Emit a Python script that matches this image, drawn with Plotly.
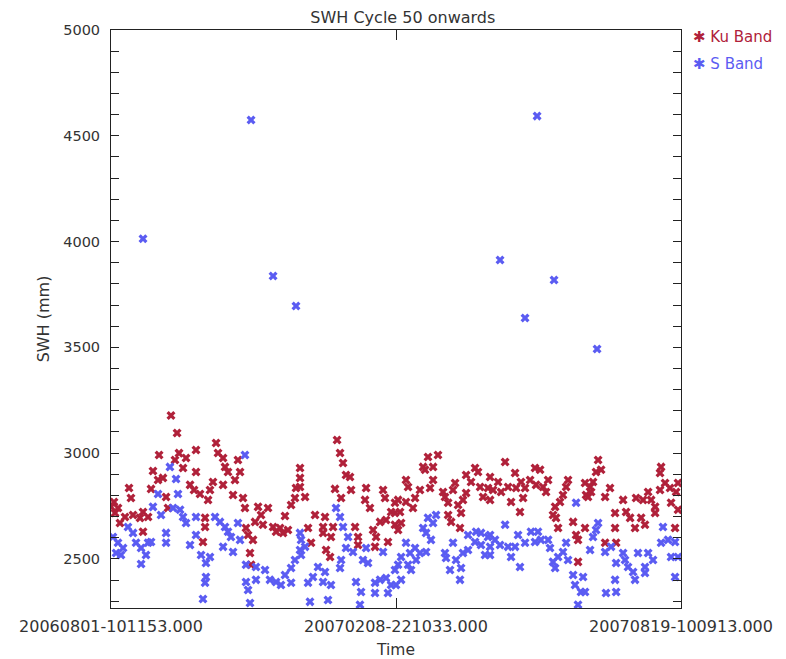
import plotly.graph_objects as go

# Time axis: days since 2006-08-01 10:11:53
tick_days = [0.0, 191.5, 383.0]
tick_labels = ["20060801-101153.000", "20070208-221033.000", "20070819-100913.000"]

ku_day = [0.0, 2.0, 2.7, 4.7, 6.0, 9.4, 12.1, 13.4, 14.8, 19.5, 21.5, 21.5, 24.9, 26.9, 28.2, 31.6, 32.3, 34.9,
          37.0, 38.3, 40.3, 43.0, 44.4, 45.7, 48.4, 50.4, 53.1, 55.8, 57.1, 57.1, 59.8, 61.8, 63.2, 63.2, 65.2,
          66.5, 68.5, 70.6, 71.9, 75.3, 75.3, 76.6, 78.6, 82.0, 83.3, 85.3, 86.7, 88.7, 90.0, 90.7, 92.1, 93.4,
          94.1, 95.4, 96.8, 98.8, 100.8, 102.1, 105.5, 108.9, 110.9, 113.6, 115.6, 116.9, 118.9, 121.0, 123.6,
          124.3, 127.0, 127.0, 127.0, 130.4, 132.4, 134.4, 137.1, 142.5, 142.5, 143.8, 144.5, 147.2, 147.8,
          149.2, 150.5, 151.9, 153.9, 154.6, 155.9, 157.9, 160.6, 161.3, 164.0, 166.0, 166.0, 170.7, 171.4,
          174.0, 176.1, 177.4, 178.1, 180.8, 182.8, 184.1, 184.8, 186.1, 188.2, 190.8, 190.8, 190.8, 192.9,
          192.9, 194.2, 194.9, 198.2, 198.2, 199.6, 202.9, 204.3, 207.6, 209.7, 211.0, 213.0, 214.4, 216.4,
          216.4, 219.7, 223.1, 224.4, 226.5, 226.5, 228.5, 229.8, 231.2, 233.2, 234.5, 235.2, 236.5, 238.6,
          238.6, 241.9, 244.6, 246.6, 248.0, 250.0, 253.3, 254.7, 254.7, 256.7, 260.1, 262.1, 264.8, 266.8,
          268.8, 271.5, 272.2, 274.8, 275.5, 276.9, 278.2, 281.6, 284.9, 285.6, 288.3, 290.3, 292.3, 293.7,
          297.0, 298.4, 299.0, 300.4, 301.7, 303.7, 305.8, 307.1, 310.5, 312.5, 313.8, 313.8, 318.5, 318.5,
          319.2, 320.5, 321.9, 322.6, 323.9, 325.9, 327.3, 329.3, 332.0, 332.0, 335.3, 338.7, 338.7, 339.4,
          344.1, 346.1, 348.8, 352.1, 352.8, 356.2, 357.5, 358.8, 360.9, 362.9, 365.6, 365.6, 368.9, 368.9,
          369.6, 372.3, 375.6, 376.3, 379.0, 379.7, 381.0, 381.0]
ku_swh = [2746, 2769, 2717, 2741, 2670, 2698, 2835, 2788, 2708, 2694, 2722, 2628, 2698, 2831, 2916, 2873, 2991, 2883,
          2793, 2741, 3178, 2968, 3095, 3000, 2930, 2977, 2850, 2826, 3015, 2911, 2807, 2580, 2694, 2651, 2779,
          2826, 2864, 3048, 3001, 2977, 2850, 2935, 2911, 2802, 2873, 2968, 2911, 2788, 2741, 2646, 2613, 2528,
          2472, 2590, 2675, 2746, 2708, 2661, 2741, 2651, 2628, 2646, 2623, 2703, 2637, 2755, 2788,
          2835, 2930, 2883, 2840, 2793, 2646, 2576, 2708, 2651, 2623, 2698, 2542, 2509, 2604,
          2651, 2831, 3062, 3001, 2788, 2953, 2897, 2887, 2826, 2651, 2604, 2566, 2779, 2835,
          2741, 2637, 2557, 2604, 2675, 2826, 2788, 2684, 2580, 2722, 2765, 2717, 2661, 2779,
          2637, 2722, 2670, 2873, 2769, 2840, 2741, 2788, 2826, 2935, 2921, 2982, 2835, 2935,
          2873, 2991, 2816, 2793, 2765, 2708, 2675, 2826, 2859, 2755, 2646, 2717, 2779, 2897,
          2812, 2864, 2930, 2911, 2840, 2793, 2835, 2887, 2779, 2826, 2864, 2816, 2958, 2840,
          2769, 2906, 2835, 2722, 2864, 2788, 2835, 2873, 2930, 2850, 2921, 2840, 2816, 2873,
          2708, 2746, 2694, 2646, 2769, 2802, 2840, 2873, 2675, 2613, 2590, 2486, 2859, 2646,
          2802, 2793, 2840, 2816, 2864, 2911, 2968, 2921, 2793, 2576, 2835, 2717, 2646, 2576,
          2779, 2722, 2694, 2646, 2788, 2694, 2779, 2661, 2816, 2779, 2746, 2717, 2906, 2826,
          2935, 2859, 2835, 2765, 2646, 2816, 2859, 2732]

s_day = [1.3, 3.4, 4.7, 6.7, 8.1, 11.4, 14.8, 16.8, 20.2, 20.2, 21.5, 23.5, 24.9, 26.9, 28.2, 31.6, 33.6, 37.0,
         37.0, 39.6, 41.7, 43.7, 45.0, 46.4, 48.4, 50.4, 53.1, 57.1, 57.1, 60.5, 61.8, 63.2, 63.8, 63.8, 66.5,
         69.9, 73.2, 75.3, 76.6, 78.6, 80.6, 82.0, 85.3, 86.7, 90.0, 90.7, 90.7, 92.1, 93.4, 94.1, 97.4, 97.4,
         103.5, 106.8, 108.9, 110.9, 114.2, 116.9, 121.0, 121.0, 123.6, 124.3, 127.0, 127.0, 127.7, 127.7,
         130.4, 132.4, 133.7, 135.7, 139.1, 142.5, 143.8, 145.8, 147.8, 151.2, 153.9, 153.9, 154.6, 155.9,
         157.9, 159.3, 162.6, 164.6, 167.3, 168.0, 169.3, 171.4, 172.7, 177.4, 177.4, 180.8, 182.8, 184.8,
         186.1, 188.2, 190.8, 191.5, 192.9, 194.9, 194.9, 198.2, 199.6, 200.9, 201.6, 204.3, 205.0, 207.6,
         209.7, 211.7, 211.7, 213.0, 215.0, 216.4, 218.4, 224.4, 225.1, 227.8, 229.8, 231.8, 234.5, 235.2,
         236.5, 239.9, 239.9, 244.6, 245.3, 248.6, 248.6, 251.3, 253.3, 254.7, 254.7, 254.7, 258.0, 261.4,
         261.4, 264.8, 266.8, 268.8, 271.5, 273.5, 274.8, 278.2, 278.2, 282.2, 284.9, 286.3, 286.9, 288.9,
         293.7, 295.0, 297.0, 297.7, 298.4, 300.4, 303.7, 305.8, 307.1, 310.5, 311.8, 312.5, 313.8, 315.8,
         317.2, 318.5, 321.9, 323.9, 325.9, 326.6, 327.3, 332.0, 332.6, 336.0, 338.7, 339.4, 339.4, 344.1,
         345.4, 347.4, 350.8, 352.1, 354.1, 358.8, 358.8, 360.9, 364.2, 369.6, 370.9, 374.3, 376.3, 379.0,
         379.0, 381.0]
s_swh = [2604, 2528, 2576, 2519, 2552, 2651, 2623, 2576, 2552, 2476, 4013, 2519, 2576, 2580, 2746, 2807, 2708, 2623,
         2576, 2935, 2741, 2878, 2807, 2732, 2698, 2670, 2566, 2698, 2613, 2519, 2311, 2387, 2481, 2415, 2509,
         2698, 2675, 2557, 2651, 2628, 2604, 2533, 2670, 2590, 2991, 2472, 2391, 2353, 2292, 4575, 2462, 2401,
         2448, 2401, 3837, 2391, 2377, 2424, 2457, 2387, 2495, 3695, 2542, 2623, 2519, 2590,
         2557, 2387, 2297, 2415, 2462, 2391, 2438, 2306, 2377, 2741, 2698, 2457, 2495, 2651,
         2552, 2604, 2533, 2391, 2283, 2344, 2495, 2552, 2481, 2387, 2339, 2401, 2533, 2410,
         2339, 2377, 2448, 2377, 2472, 2509, 2401, 2576, 2472, 2528, 2448, 2552, 2495, 2528,
         2646, 2623, 2533, 2694, 2590, 2670, 2708, 2528, 2504, 2448, 2576, 2495, 2401, 2457,
         2528, 2542, 2613, 2580, 2628, 2623, 2566, 2519, 2604, 2557, 2613, 2519, 2590, 2566,
         3913, 2661, 2557, 2509, 2557, 2613, 2462, 2576, 3639, 2628, 2580, 4593, 2628, 2590,
         2590, 2552, 2486, 3818, 2457, 2509, 2533, 2576, 2495, 2424, 2377, 2765, 2283, 2344,
         2415, 2344, 2542, 2604, 2637, 3492, 2670, 2533, 2339, 2557, 2401, 2481, 2344, 2528,
         2495, 2462, 2438, 2401, 2528, 2462, 2434, 2528, 2495, 2576, 2651, 2590, 2509, 2580,
         2415, 2509]

KU_COLOR = "#b0213a"
S_COLOR = "#5b5cf2"
FONT = "DejaVu Sans"

fig = go.Figure()
fig.add_trace(go.Scatter(x=ku_day, y=ku_swh, mode="markers", name="Ku Band",
                         marker=dict(symbol="x", size=8, color=KU_COLOR, line=dict(width=0))))
fig.add_trace(go.Scatter(x=s_day, y=s_swh, mode="markers", name="S Band",
                         marker=dict(symbol="x", size=8, color=S_COLOR, line=dict(width=0))))

axis_common = dict(showline=True, linecolor="#222", linewidth=1, mirror="ticks", ticks="inside",
                   tickcolor="#222", showgrid=False, zeroline=False, automargin=False)

fig.update_layout(
    width=778, height=651,
    margin=dict(l=103, r=105, t=22, b=51),
    paper_bgcolor="white", plot_bgcolor="white",
    showlegend=False,
    font=dict(family=FONT, color="#333", size=14),
    title=dict(text="SWH Cycle 50 onwards", x=0.5075, xanchor="center", y=0.986, yanchor="middle",
               font=dict(size=16, color="#333")),
    xaxis=dict(range=[0, 383], tickvals=tick_days, ticktext=tick_labels, ticklen=10,
               tickfont=dict(size=16), ticklabelstandoff=4,
               title=dict(text="Time", font=dict(size=15.5), standoff=13),
               **axis_common),
    yaxis=dict(range=[2268, 5000], tickvals=[2500, 3000, 3500, 4000, 4500, 5000], ticklen=8,
               minor=dict(dtick=100, ticks="inside", ticklen=8, tickcolor="#222"),
               tickfont=dict(size=14.5), ticklabelstandoff=7,
               title=dict(text="SWH (mm)", font=dict(size=16), standoff=9),
               **axis_common),
    annotations=[
        dict(text="✱ Ku Band", x=1.018, y=0.988, xref="paper", yref="paper", xanchor="left", yanchor="middle",
             showarrow=False, font=dict(size=15, color=KU_COLOR)),
        dict(text="✱ S Band", x=1.018, y=0.941, xref="paper", yref="paper", xanchor="left", yanchor="middle",
             showarrow=False, font=dict(size=15, color=S_COLOR)),
    ],
)

fig.write_html("out.html")
